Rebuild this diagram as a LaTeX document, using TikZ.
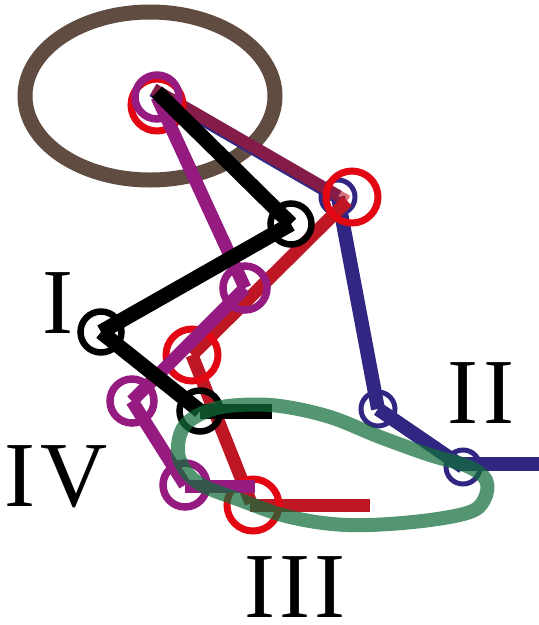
\documentclass[tikz,border=0pt]{standalone}
\usepackage{fontspec}
\setmainfont{Liberation Serif}
\definecolor{brownE}{RGB}{96,76,64}
\definecolor{blueII}{RGB}{49,39,131}
\definecolor{redIII}{RGB}{190,22,34}
\definecolor{redC}{RGB}{227,6,19}
\definecolor{purpIV}{RGB}{149,27,129}
\definecolor{greenL}{RGB}{17,110,58}
\begin{document}
\begin{tikzpicture}[x=1pt,y=-1pt,
  bseg/.style={draw=black,line width=15pt,line cap=butt},
  bring/.style={draw=black,line width=6.5pt},
  blseg/.style={draw=blueII,line width=14pt,line cap=butt},
  blring/.style={draw=blueII,line width=5pt},
  rseg/.style={draw=redIII,line width=13pt,line cap=butt},
  rring/.style={draw=redC,line width=7pt},
  pseg/.style={draw=purpIV,line width=13pt,line cap=butt},
  pring/.style={draw=purpIV,line width=7.5pt},
  loopline/.style={draw=greenL,line width=14pt,draw opacity=0.72},
  ell/.style={draw=brownE,line width=15pt},
  lab/.style={inner sep=0pt,font=\fontsize{93}{93}\selectfont\addfontfeature{LetterSpace=4.8}}]
\useasboundingbox (0,0) rectangle (539,625);
% hip region ellipse
\coordinate (ec) at (150,96);
\draw[ell] (ec) ellipse [x radius=125pt, y radius=84pt];
% pose II (blue)
\coordinate (bH) at (153,90);
\coordinate (bK) at (338,197);
\coordinate (bA) at (378,409);
\coordinate (bF) at (463,467);
\coordinate (bT0) at (456,464);
\coordinate (bT) at (540,464);
\draw[blseg] (bH) -- (bK);
\draw[blseg] (bK) -- (bA);
\draw[blseg] (bA) -- (bF);
\draw[blseg] (bT0) -- (bT);
\foreach \p in {bK,bA,bF} \draw[blring] (\p) circle[radius=17pt];
% pose III (red)
\coordinate (rH) at (153.5,89.1);
\coordinate (rK) at (347.2,201.1);
\coordinate (rKc) at (352,197);
\coordinate (rA) at (192,355);
\coordinate (rF) at (251,503);
\coordinate (rT0) at (250,505);
\coordinate (rT) at (370,505);
\draw[rseg,line width=12pt,draw opacity=0.6] (rH) -- (rK);
\draw[rseg] (rK) -- (rA);
\draw[rseg] (rA) -- (rF);
\draw[rseg] (rT0) -- (rT);
\draw[rring] (157,105) circle[radius=26pt];
\draw[rring] (rKc) circle[radius=26pt];
\draw[rring] (rA) circle[radius=26pt];
\draw[rring] (253,505) circle[radius=26pt];
% pose IV (purple)
\coordinate (pH) at (157,97);
\coordinate (pK) at (245,288);
\coordinate (pA) at (132,401);
\coordinate (pF) at (185,485);
\coordinate (pT0) at (185,486);
\coordinate (pT) at (255,486);
\draw[pseg] (pH) -- (pK);
\draw[pseg] (pK) -- (pA);
\draw[pseg] (pA) -- (pF);
\draw[pseg] (pT0) -- (pT);
\foreach \p in {pH,pK,pA,pF} \draw[pring] (\p) circle[radius=22pt];
% pose I (black)
\coordinate (kH) at (157,92);
\coordinate (kK) at (291,224);
\coordinate (kA) at (101,332);
\coordinate (kF) at (200,411);
\coordinate (kT) at (272,411);
\draw[bseg] (kH) -- (kK);
\draw[bseg] (kK) -- (kA);
\draw[bseg] (kA) -- (kF);
\draw[bseg] (kF) -- (kT);
\foreach \p in {kK,kA,kF} \draw[bring] (\p) circle[radius=20.5pt];
% green loop
\draw[loopline] plot[smooth cycle, tension=0.6] coordinates {
 (186,424) (210,410) (240,405) (280,406) (330,417) (380,437) (430,455)
 (467,466) (486,480) (484,500) (467,513) (413,522) (347,525) (290,517)
 (240,500) (200,484) (182,465) (178,445)};
% labels
\node[lab] (lI) at (58,303) {I};
\node[lab] (lII) at (481,393) {II};
\node[lab] (lIII) at (295,587) {III};
\node[lab] (lIV) at (56,477) {IV};
\end{tikzpicture}
\end{document}
